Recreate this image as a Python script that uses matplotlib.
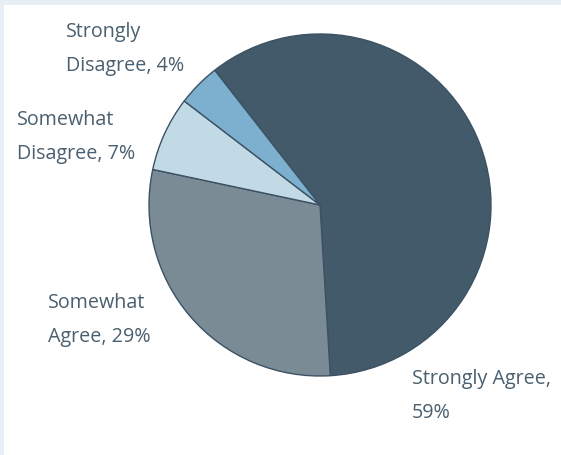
import matplotlib
matplotlib.use("Agg")
import matplotlib.pyplot as plt
from matplotlib.patches import Rectangle

categories = ["Strongly Agree", "Somewhat Agree", "Somewhat Disagree", "Strongly Disagree"]
values = [59, 29, 7, 4]
colors = ["#435a6b", "#7a8b96", "#c2d9e6", "#7db0cf"]
label_texts = ["Strongly Agree,\n59%", "Somewhat\nAgree, 29%", "Somewhat\nDisagree, 7%", "Strongly\nDisagree, 4%"]
label_pos = [(412, 396), (48, 320), (17, 137), (66, 49)]  # pixel positions (left, center y)

W, H = 561, 455
fig = plt.figure(figsize=(W / 100, H / 100), dpi=100)
fig.patch.set_facecolor("#e7eef6")
fig.patches.append(Rectangle((4 / W, 0), 1, 1 - 5 / H, transform=fig.transFigure,
                             facecolor="white", edgecolor="none", zorder=-5))

cx, cy, r = 320, 205, 171
ax = fig.add_axes([(cx - r) / W, (H - cy - r) / H, 2 * r / W, 2 * r / H])
ax.set_zorder(2)
ax.set_facecolor("none")
ax.pie(values, colors=colors, startangle=128, counterclock=False, radius=1,
       wedgeprops=dict(edgecolor="#3b5264", linewidth=1.0))
ax.set_xlim(-1.0, 1.0)
ax.set_ylim(-1.0, 1.0)
ax.set_aspect("equal")
ax.axis("off")

for txt, (x, y) in zip(label_texts, label_pos):
    fig.text(x / W, 1 - y / H, txt, ha="left", va="center", fontsize=14.2,
             color="#4a5f6f", family="Open Sans", linespacing=1.9, zorder=3)

fig.savefig("out.png", dpi=100, facecolor=fig.get_facecolor())
